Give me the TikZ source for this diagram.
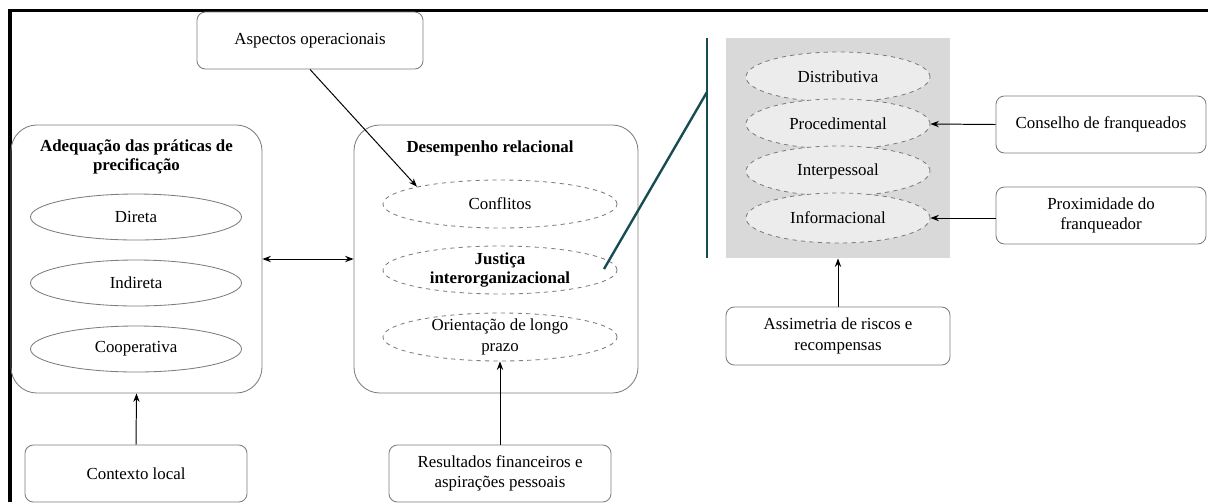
\documentclass[tikz,border=0pt]{standalone}
\usepackage{fontspec}
\setmainfont{Liberation Serif}
\usepackage{xcolor}
\usetikzlibrary{shapes.geometric, arrows.meta, positioning}
\definecolor{tealline}{RGB}{23,76,82}
\definecolor{boxgray}{RGB}{125,125,125}
\definecolor{panelgray}{RGB}{217,217,217}
\definecolor{ovalgray}{RGB}{236,236,236}
\tikzstyle{rbox} = [rectangle, 
rounded corners=6pt, 
minimum width=5.55cm, 
minimum height=1.425cm, text centered, align=center, 
draw=boxgray]
\tikzstyle{bigbox} = [rectangle, rounded corners=0.65cm, minimum height=6.7cm, draw=boxgray]
\tikzstyle{title} = [font=\fontsize{12}{14}\selectfont\bfseries, align=center]
\tikzstyle{oval} = [ellipse, inner sep=0pt, minimum width=5.275cm, minimum height=1.15cm, draw=boxgray]
\tikzstyle{dashoval} = [ellipse, dashed, inner sep=0pt, minimum width=5.85cm, minimum height=1.2cm, draw=boxgray]
\tikzstyle{greyoval} = [ellipse, dashed, inner sep=0pt, minimum width=4.6cm, minimum height=1.25cm, draw=boxgray, fill=ovalgray]
\tikzstyle{zoomline} = [line width=1.7pt, draw=tealline]
\tikzstyle{arrow} = [line width=0.7pt, ->, >={Stealth[length=6pt, width=4.5pt]}]

\begin{document}
\begin{tikzpicture}[x=0.025cm, y=-0.025cm, font=\fontsize{12}{14.5}\selectfont, line width=0.6pt]
        \useasboundingbox (0,0) rectangle (1208,502);
        \draw[line width=2.6pt] (10,502) -- (10,10.5) -- (1208,10.5);

        % lado esquerdo
        \node[rbox, minimum width=5.65cm] (asp) at (310,40.5) {Aspectos operacionais};
        \node[bigbox, minimum width=6.275cm] (adeq) at (136.5,259) {};
        \node[title] (adeqtit) at (136.5,157) {Adequação das práticas de\\precificação};
        \node[oval] (direta) at (136,217) {Direta};
        \node[oval] (indireta) at (136,283) {Indireta};
        \node[oval] (coop) at (136,349) {Cooperativa};

        \node[bigbox, minimum width=7.1cm] (desemp) at (496,259) {};
        \node[title] (desemptit) at (490,148) {Desempenho relacional};
        \node[dashoval] (conf) at (500,204) {Conflitos};
        \node[dashoval, label={[title]center:Justiça\\interorganizacional}] (just) at (500,270) {};
        \node[dashoval, label={[align=center]center:Orientação de longo\\prazo}] (orient) at (500,337) {};

        \node[rbox] (ctx) at (136,473.5) {Contexto local};
        \node[rbox] (res) at (500,473.5) {Resultados financeiros e\\aspirações pessoais};

        % detalhe da justiça
        \node[fill=panelgray, inner sep=0pt, minimum width=5.6cm, minimum height=5.5cm] (painel) at (838,148) {};
        \foreach \nome/\txt/\y in {dist/Distributiva/77, proc/Procedimental/124, inter/Interpessoal/171, info/Informacional/218}
            \node[greyoval] (\nome) at (838,\y) {\txt};

        \node[rbox, minimum width=5.25cm] (cons) at (1101,124.5) {Conselho de franqueados};
        \node[rbox, minimum width=5.25cm] (prox) at (1101,215.5) {Proximidade do\\franqueador};
        \node[rbox, minimum width=5.6cm, minimum height=1.45cm] (asm) at (838,336) {Assimetria de riscos e\\recompensas};

        \coordinate (zoomtop) at (707,38);
        \coordinate (zoombot) at (707,258);
        \coordinate (zoomjoin) at (707,92);
        \coordinate (zoomfrom) at (604,269);
        \draw[zoomline] (zoomtop) -- (zoombot);
        \draw[zoomline] (zoomfrom) -- (zoomjoin);

        % setas
        \draw[arrow] (asp.south) -- (conf.north west);
        \draw[arrow, <->] (adeq.east) -- (desemp.west);
        \draw[arrow] (ctx.north) -- (adeq.south);
        \draw[arrow] (res.north) -- (orient.south);
        \draw[arrow] (cons.west) -- (proc.east);
        \draw[arrow] (prox.west |- info.east) -- (info.east);
        \draw[arrow] (asm.north) -- (painel.south);
    \end{tikzpicture}
\end{document}
